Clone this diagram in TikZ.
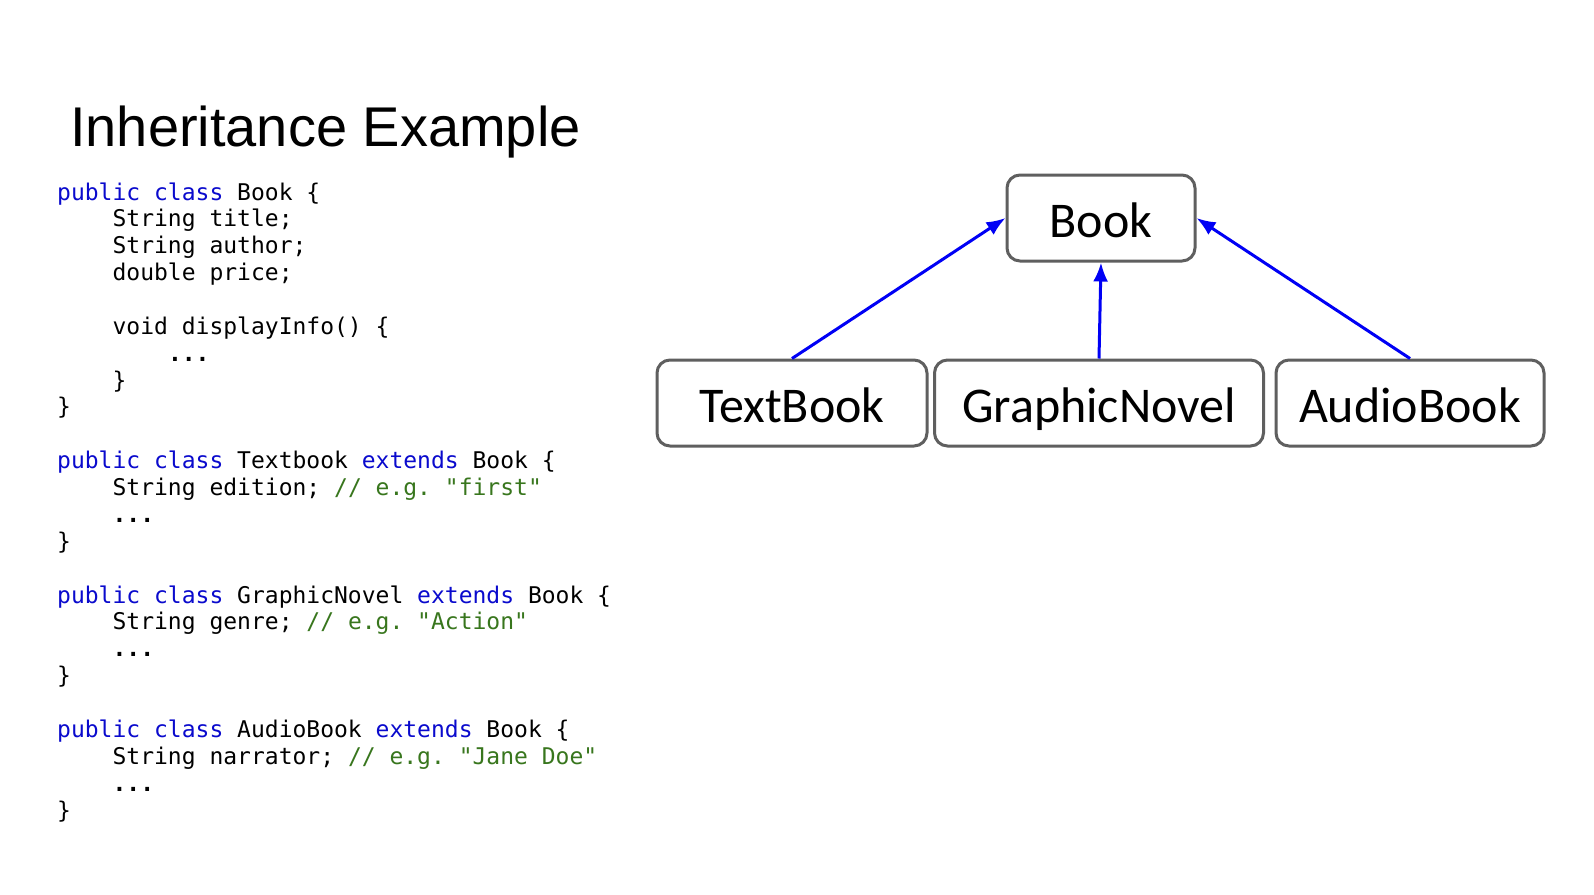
\documentclass[tikz,border=0pt]{standalone}
\usepackage{fontspec}
\setmainfont{Liberation Sans}
\setmonofont{DejaVu Sans Mono}
\newfontfamily\boxfont{Carlito}
\usetikzlibrary{arrows.meta}
\definecolor{kwblue}{RGB}{10,10,205}
\definecolor{cmgreen}{RGB}{56,118,29}
\definecolor{boxgray}{RGB}{95,95,95}
\definecolor{arrblue}{RGB}{0,0,245}
\newcommand{\kw}[1]{\textcolor{kwblue}{#1}}
\newcommand{\cm}[1]{\textcolor{cmgreen}{#1}}
\begin{document}
\begin{tikzpicture}[x=1pt,y=-1pt,
  codeline/.style={anchor=base west,inner sep=0pt,font=\ttfamily\fontsize{23}{27}\selectfont},
  classbox/.style={draw=boxgray,line width=3pt,rounded corners=13pt,fill=white,
     font=\boxfont\fontsize{50}{60}\selectfont,text height=38pt,text depth=0pt,
     minimum height=86pt,inner sep=0pt},
  inh/.style={draw=arrblue,line width=3pt,-{Latex[length=19pt,width=15pt]}}]
\useasboundingbox (0,0) rectangle (1594,894);
\fill[white] (0,0) rectangle (1594,894);
\node[anchor=base west,inner sep=0pt,font=\fontsize{56}{64}\selectfont] (title) at (70,146) {Inheritance Example};
% code
\def\lh{26.87}
\def\ca{57}
\def\cb{112.4}
\def\cc{167.8}
\node[codeline] (c1) at (\ca,200) {\kw{public class} Book \{};
\node[codeline] (c2) at (\cb,200+1*\lh) {String title;};
\node[codeline] (c3) at (\cb,200+2*\lh) {String author;};
\node[codeline] (c4) at (\cb,200+3*\lh) {double price;};
\node[codeline] (c6) at (\cb,200+5*\lh) {void displayInfo() \{};
\node[codeline] (c7) at (\cc,200+6*\lh) {\textbf{...}};
\node[codeline] (c8) at (\cb,200+7*\lh) {\}};
\node[codeline] (c9) at (\ca,200+8*\lh) {\}};
\node[codeline] (c11) at (\ca,200+10*\lh) {\kw{public class} Textbook \kw{extends} Book \{};
\node[codeline] (c12) at (\cb,200+11*\lh) {String edition; \cm{// e.g. "first"}};
\node[codeline] (c13) at (\cb,200+12*\lh) {\textbf{...}};
\node[codeline] (c14) at (\ca,200+13*\lh) {\}};
\node[codeline] (c16) at (\ca,200+15*\lh) {\kw{public class} GraphicNovel \kw{extends} Book \{};
\node[codeline] (c17) at (\cb,200+16*\lh) {String genre; \cm{// e.g. "Action"}};
\node[codeline] (c18) at (\cb,200+17*\lh) {\textbf{...}};
\node[codeline] (c19) at (\ca,200+18*\lh) {\}};
\node[codeline] (c21) at (\ca,200+20*\lh) {\kw{public class} AudioBook \kw{extends} Book \{};
\node[codeline] (c22) at (\cb,200+21*\lh) {String narrator; \cm{// e.g. "Jane Doe"}};
\node[codeline] (c23) at (\cb,200+22*\lh) {\textbf{...}};
\node[codeline] (c24) at (\ca,200+23*\lh) {\}};
% diagram
\node[classbox,minimum width=188pt] (book) at (1101,218) {Book};
\node[classbox,minimum width=270pt] (tb) at (792,403) {TextBook};
\node[classbox,minimum width=329pt] (gn) at (1099,403) {GraphicNovel};
\node[classbox,minimum width=268pt] (ab) at (1410,403) {AudioBook};
\draw[inh] (tb.north) -- (book.west);
\draw[inh] (gn.north) -- (book.south);
\draw[inh] (ab.north) -- (book.east);
\end{tikzpicture}
\end{document}
